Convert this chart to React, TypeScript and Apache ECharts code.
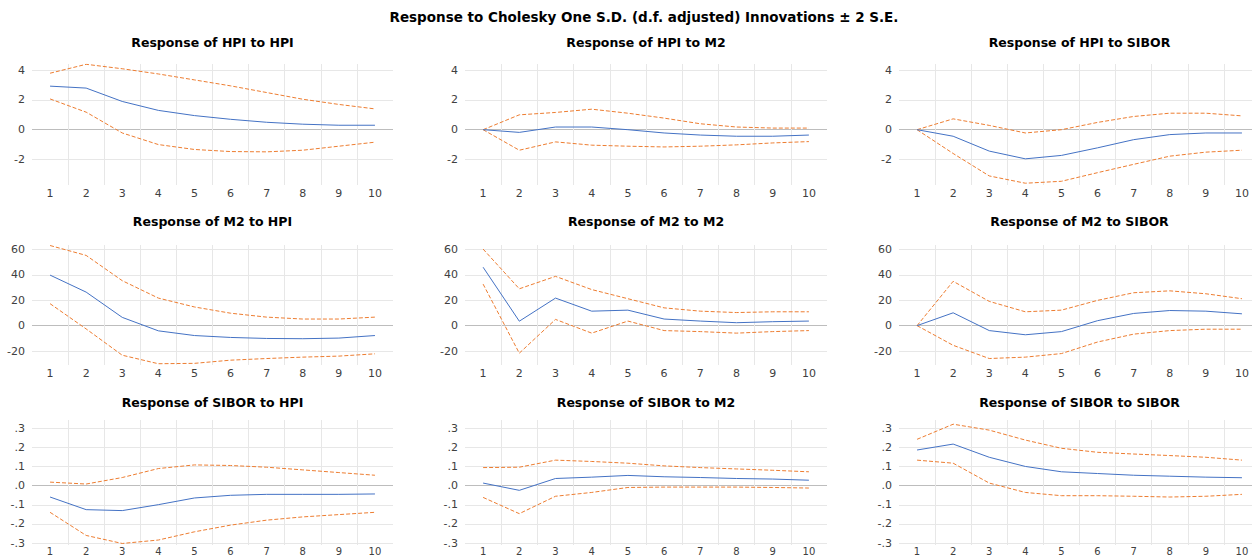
import React, { useEffect, useRef } from "react";
import * as echarts from "echarts";

// ---------- data ----------
const periods = ["1", "2", "3", "4", "5", "6", "7", "8", "9", "10"];

const mainTitle = "Response to Cholesky One S.D. (d.f. adjusted) Innovations \u00B1 2 S.E.";

const yTicksHpi = [-2, 0, 2, 4];
const yTicksM2 = [-20, 0, 20, 40, 60];
const yTicksSibor = [-0.3, -0.2, -0.1, 0, 0.1, 0.2, 0.3];

const hpiToHpi = [2.93, 2.8, 1.9, 1.3, 0.95, 0.7, 0.5, 0.37, 0.3, 0.3];
const hpiToHpiUpper = [3.8, 4.4, 4.1, 3.75, 3.35, 2.95, 2.5, 2.05, 1.7, 1.4];
const hpiToHpiLower = [2.07, 1.18, -0.22, -1.0, -1.33, -1.47, -1.49, -1.38, -1.11, -0.84];

const hpiToM2 = [0, -0.18, 0.18, 0.18, 0, -0.22, -0.36, -0.44, -0.44, -0.36];
const hpiToM2Upper = [0, 1.0, 1.16, 1.38, 1.11, 0.78, 0.4, 0.18, 0.11, 0.11];
const hpiToM2Lower = [0, -1.38, -0.82, -1.04, -1.11, -1.16, -1.11, -1.02, -0.89, -0.8];

const hpiToSibor = [0, -0.44, -1.44, -1.96, -1.73, -1.22, -0.67, -0.33, -0.22, -0.22];
const hpiToSiborUpper = [0, 0.73, 0.29, -0.22, 0, 0.49, 0.89, 1.11, 1.11, 0.93];
const hpiToSiborLower = [0, -1.6, -3.11, -3.6, -3.47, -2.89, -2.33, -1.78, -1.51, -1.38];

const m2ToHpi = [39.8, 26.4, 6.5, -4.1, -7.8, -9.3, -10.1, -10.3, -9.8, -7.8];
const m2ToHpiUpper = [63.1, 55.3, 35.4, 21.7, 14.7, 9.8, 6.7, 5.2, 5.2, 6.7];
const m2ToHpiLower = [17.3, -2.6, -23.3, -30, -29.7, -27.2, -25.9, -24.8, -24, -22.2];

const m2ToM2 = [46, 3.5, 21.7, 11.4, 12.2, 5.2, 3.6, 2.3, 3.1, 3.6];
const m2ToM2Upper = [60.3, 29, 38.8, 28.4, 21.2, 14, 11.4, 10.3, 10.9, 10.9];
const m2ToM2Lower = [32.7, -21.7, 4.9, -5.9, 3.6, -3.9, -4.7, -5.9, -4.7, -3.9];

const m2ToSibor = [0, 10.1, -3.9, -7.2, -4.7, 3.9, 9.6, 11.9, 11.4, 9.3];
const m2ToSiborUpper = [0, 34.9, 19.1, 10.9, 12.2, 19.9, 25.9, 27.4, 25.1, 21.2];
const m2ToSiborLower = [0, -15.5, -25.9, -24.8, -22, -12.9, -6.7, -3.9, -2.8, -2.8];

const siborToHpi = [-0.059, -0.125, -0.13, -0.099, -0.064, -0.05, -0.045, -0.045, -0.045, -0.043];
const siborToHpiUpper = [0.019, 0.009, 0.043, 0.09, 0.109, 0.106, 0.097, 0.083, 0.069, 0.055];
const siborToHpiLower = [-0.139, -0.26, -0.302, -0.284, -0.241, -0.206, -0.18, -0.163, -0.151, -0.139];

const siborToM2 = [0.014, -0.024, 0.038, 0.045, 0.054, 0.047, 0.043, 0.038, 0.035, 0.029];
const siborToM2Upper = [0.095, 0.097, 0.134, 0.127, 0.118, 0.104, 0.095, 0.088, 0.081, 0.073];
const siborToM2Lower = [-0.061, -0.146, -0.055, -0.035, -0.009, -0.007, -0.007, -0.007, -0.009, -0.012];

const siborToSibor = [0.187, 0.218, 0.149, 0.101, 0.073, 0.064, 0.055, 0.05, 0.045, 0.042];
const siborToSiborUpper = [0.243, 0.322, 0.291, 0.239, 0.196, 0.175, 0.166, 0.158, 0.149, 0.134];
const siborToSiborLower = [0.134, 0.118, 0.014, -0.035, -0.052, -0.052, -0.055, -0.059, -0.055, -0.045];

// ---------- layout / style ----------
const W = 1252;
const H = 556;
const colLayout = [
  { left: 32, width: 361 },
  { left: 465, width: 362 },
  { left: 899, width: 361 },
];
const rowLayout = [
  { top: 64, height: 121, titleY: 42.5, min: -3.72, max: 4.42, ticks: yTicksHpi, sibor: false, xMargin: 3, xFont: 11 },
  { top: 245, height: 120, titleY: 221.5, min: -31, max: 63.5, ticks: yTicksM2, sibor: false, xMargin: 3, xFont: 11 },
  { top: 420, height: 125, titleY: 402, min: -0.31, max: 0.344, ticks: yTicksSibor, sibor: true, xMargin: 1, xFont: 10 },
];

const BLUE = "#4472C4";
const ORANGE = "#ED7D31";
const GRID_COLOR = "#e7e7e7";
const ZERO_COLOR = "#bdbdbd";
const LABEL_COLOR = "#404040";
const FONT = "DejaVu Sans";

const panels = [
  { title: "Response of HPI to HPI", mean: hpiToHpi, upper: hpiToHpiUpper, lower: hpiToHpiLower },
  { title: "Response of HPI to M2", mean: hpiToM2, upper: hpiToM2Upper, lower: hpiToM2Lower },
  { title: "Response of HPI to SIBOR", mean: hpiToSibor, upper: hpiToSiborUpper, lower: hpiToSiborLower },
  { title: "Response of M2 to HPI", mean: m2ToHpi, upper: m2ToHpiUpper, lower: m2ToHpiLower },
  { title: "Response of M2 to M2", mean: m2ToM2, upper: m2ToM2Upper, lower: m2ToM2Lower },
  { title: "Response of M2 to SIBOR", mean: m2ToSibor, upper: m2ToSiborUpper, lower: m2ToSiborLower },
  { title: "Response of SIBOR to HPI", mean: siborToHpi, upper: siborToHpiUpper, lower: siborToHpiLower },
  { title: "Response of SIBOR to M2", mean: siborToM2, upper: siborToM2Upper, lower: siborToM2Lower },
  { title: "Response of SIBOR to SIBOR", mean: siborToSibor, upper: siborToSiborUpper, lower: siborToSiborLower },
];

function fmtSibor(v: number): string {
  const s = v.toFixed(1);
  return s.replace(/^(-?)0\./, "$1.");
}

function buildOption() {
  const grid: any[] = [];
  const xAxis: any[] = [];
  const yAxis: any[] = [];
  const series: any[] = [];
  const graphic: any[] = [];

  graphic.push({
    type: "text",
    x: 644,
    y: 17,
    style: {
      text: mainTitle,
      font: `bold 13.5px "${FONT}"`,
      fill: "#000",
      align: "center",
      verticalAlign: "middle",
      textAlign: "center",
      textVerticalAlign: "middle",
    },
  });

  panels.forEach((p, i) => {
    const r = rowLayout[Math.floor(i / 3)];
    const c = colLayout[i % 3];
    grid.push({
      left: c.left,
      top: r.top,
      width: c.width,
      height: r.height,
      containLabel: false,
      outerBoundsMode: "none",
    });
    const zeroIdx = r.ticks.indexOf(0);
    const lineColors = r.ticks.map((_, k) => (k === zeroIdx ? ZERO_COLOR : GRID_COLOR));
    xAxis.push({
      type: "category",
      gridIndex: i,
      data: periods,
      boundaryGap: true,
      axisLine: { show: false, onZero: false },
      axisTick: { show: false },
      axisLabel: {
        interval: 0,
        margin: r.xMargin,
        color: LABEL_COLOR,
        fontSize: r.xFont,
        fontFamily: FONT,
      },
      splitLine: {
        show: true,
        interval: 0,
        showMinLine: false,
        showMaxLine: false,
        lineStyle: { color: GRID_COLOR, width: 1 },
      },
    });
    yAxis.push({
      type: "value",
      gridIndex: i,
      min: r.min,
      max: r.max,
      axisLine: { show: false },
      axisTick: { show: false, customValues: r.ticks },
      axisLabel: {
        customValues: r.ticks,
        margin: 7,
        color: LABEL_COLOR,
        fontSize: 11,
        fontFamily: FONT,
        formatter: (v: number) => (r.sibor ? fmtSibor(v) : String(v)),
      },
      splitLine: {
        show: true,
        lineStyle: { color: lineColors, width: 1 },
      },
    });
    const common = {
      type: "line",
      xAxisIndex: i,
      yAxisIndex: i,
      symbol: "none",
      silent: true,
    };
    series.push({
      ...common,
      name: p.title + " upper",
      data: p.upper,
      lineStyle: { color: ORANGE, width: 1, type: [4, 2] },
      z: 2,
    });
    series.push({
      ...common,
      name: p.title + " lower",
      data: p.lower,
      lineStyle: { color: ORANGE, width: 1, type: [4, 2] },
      z: 2,
    });
    series.push({
      ...common,
      name: p.title,
      data: p.mean,
      lineStyle: { color: BLUE, width: 1, type: "solid" },
      z: 3,
    });
    graphic.push({
      type: "text",
      x: c.left + c.width / 2,
      y: r.titleY,
      style: {
        text: p.title,
        font: `bold 12.5px "${FONT}"`,
        fill: "#000",
        align: "center",
        verticalAlign: "middle",
        textAlign: "center",
        textVerticalAlign: "middle",
      },
    });
  });

  return {
    animation: false,
    backgroundColor: "#ffffff",
    grid,
    xAxis,
    yAxis,
    series,
    graphic,
  };
}

export default function App() {
  const ref = useRef<HTMLDivElement | null>(null);
  useEffect(() => {
    if (!ref.current) return;
    const chart = echarts.init(ref.current, undefined, { renderer: "svg", width: W, height: H });
    chart.setOption(buildOption() as any);
    return () => {
      chart.dispose();
    };
  }, []);
  return (
    <div
      ref={ref}
      style={{ position: "fixed", left: 0, top: 0, width: W, height: H, background: "#fff", overflow: "hidden" }}
    />
  );
}
